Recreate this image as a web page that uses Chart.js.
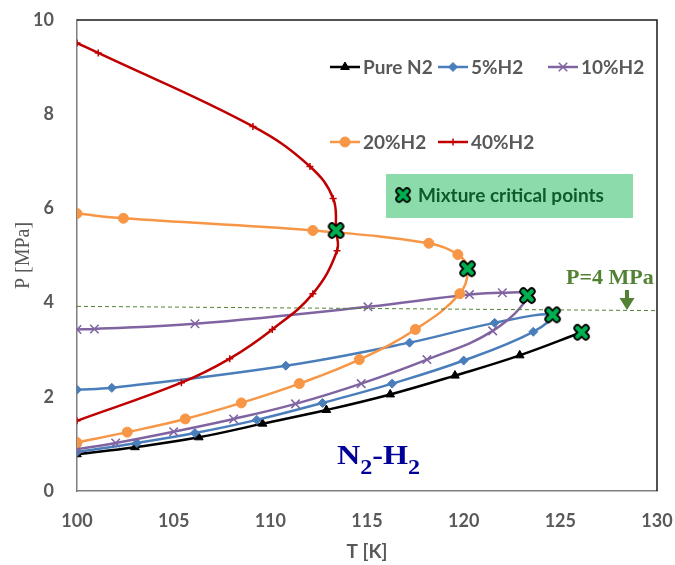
<!DOCTYPE html>
<html>
<head>
<meta charset="utf-8">
<script src="https://cdn.jsdelivr.net/npm/chart.js@4.4.0/dist/chart.umd.min.js"></script>
<style>
  html, body { margin: 0; padding: 0; background: #fff; }
</style>
</head>
<body>
<canvas id="vleChart" width="675" height="565"></canvas>
<script>
// N2-H2 phase envelopes (T in K, P in MPa)
// each mixture goes bubble branch -> critical point -> dew branch
const seriesNames = ['Pure N2', '5%H2', '10%H2', '20%H2', '40%H2'];

const pureN2T = [100, 103.0, 106.3, 109.6, 112.9, 116.2, 119.55, 122.9, 126.1];
const pureN2P = [0.78, 0.93, 1.14, 1.43, 1.72, 2.05, 2.45, 2.88, 3.37];

const h2_5T = [100, 103.1, 106.1, 109.3, 112.7, 116.3, 120.0, 123.6, 124.6, 121.6, 117.2, 110.8, 101.8, 100];
const h2_5P = [0.83, 1.02, 1.23, 1.51, 1.87, 2.28, 2.77, 3.38, 3.74, 3.57, 3.15, 2.66, 2.19, 2.15];

const h2_10T = [100, 102.0, 105.0, 108.1, 111.3, 114.7, 118.1, 121.5, 123.3, 122.0, 120.3, 115.05, 106.1, 100.9, 100];
const h2_10P = [0.89, 1.02, 1.26, 1.53, 1.85, 2.28, 2.79, 3.40, 4.15, 4.21, 4.17, 3.91, 3.55, 3.44, 3.43];

const h2_20T = [100, 102.6, 105.6, 108.5, 111.5, 114.6, 117.5, 119.8, 120.2, 119.7, 118.2, 112.2, 102.4, 100];
const h2_20P = [1.03, 1.25, 1.53, 1.87, 2.28, 2.79, 3.43, 4.19, 4.72, 5.02, 5.26, 5.53, 5.79, 5.89];

const h2_40T = [100, 105.4, 107.9, 110.1, 112.2, 113.45, 113.4, 113.25, 112.05, 109.1, 101.1, 100];
const h2_40P = [1.49, 2.30, 2.81, 3.43, 4.19, 5.10, 5.53, 6.21, 6.89, 7.74, 9.30, 9.51];

// mixture critical points
const critT = [126.1, 124.6, 123.3, 120.2, 113.4];
const critP = [3.37, 3.74, 4.15, 4.72, 5.53];

// P = 4 MPa guide line (drawn slightly sloped in the original)
const guideT = [100, 130];
const guideP = [3.92, 3.83];

const xTicks = [100, 105, 110, 115, 120, 125, 130];
const yTicks = [0, 2, 4, 6, 8, 10];

const pts = (T, P) => T.map((t, i) => ({ x: t, y: P[i] }));

function critMarker(size) {
    const c = document.createElement('canvas');
    c.width = size; c.height = size;
    const g = c.getContext('2d');
    const a = size * 0.28, b = size - a;
    g.lineCap = 'round';
    g.beginPath();
    g.moveTo(a, a); g.lineTo(b, b);
    g.moveTo(b, a); g.lineTo(a, b);
    g.strokeStyle = '#000'; g.lineWidth = size * 0.42; g.stroke();
    g.strokeStyle = '#00B050'; g.lineWidth = size * 0.23; g.stroke();
    return c;
}
const critIcon = critMarker(19);

function curve(label, T, P, color, style, radius) {
    return {
        label: label,
        data: pts(T, P),
        showLine: true,
        borderColor: color,
        backgroundColor: color,
        borderWidth: 2.5,
        tension: 0.4,
        pointStyle: style,
        pointRadius: radius,
        pointBorderWidth: style === 'crossRot' || style === 'cross' ? 1.5 : 1,
        pointBorderColor: color,
        pointBackgroundColor: color
    };
}

const datasets = [
    {
        label: 'Mixture critical points',
        data: pts(critT, critP),
        showLine: false,
        pointStyle: critIcon,
        pointRadius: 9
    },
    {
        label: 'P=4 MPa',
        data: pts(guideT, guideP),
        showLine: true,
        borderColor: '#548235',
        borderWidth: 1,
        borderDash: [4, 3],
        pointRadius: 0
    },
    curve(seriesNames[4], h2_40T, h2_40P, '#C00000', 'cross', 3.5),
    curve(seriesNames[3], h2_20T, h2_20P, '#F79646', 'circle', 5),
    curve(seriesNames[2], h2_10T, h2_10P, '#8064A2', 'crossRot', 6),
    curve(seriesNames[1], h2_5T, h2_5P, '#4A7EBB', 'rectRot', 4.5),
    curve(seriesNames[0], pureN2T, pureN2P, '#000000', 'triangle', 5)
];

// legend + annotations drawn by hand to follow the original layout
const annotations = {
    id: 'annotations',
    afterDraw(chart) {
        const ctx = chart.ctx;
        const area = chart.chartArea;
        ctx.save();

        // frame top/right
        ctx.strokeStyle = '#1a1a1a';
        ctx.lineWidth = 1.5;
        ctx.beginPath();
        ctx.moveTo(area.left, area.top);
        ctx.lineTo(area.right, area.top);
        ctx.lineTo(area.right, area.bottom);
        ctx.stroke();

        // legend
        const slots = [
            { ds: 6, x: 330, y: 67 },
            { ds: 5, x: 438, y: 67 },
            { ds: 4, x: 548, y: 67 },
            { ds: 3, x: 330, y: 142 },
            { ds: 2, x: 438, y: 142 }
        ];
        ctx.font = 'bold 19px Lato';
        ctx.textBaseline = 'middle';
        ctx.textAlign = 'left';
        slots.forEach(s => {
            const d = chart.data.datasets[s.ds];
            ctx.strokeStyle = d.borderColor;
            ctx.lineWidth = 2.5;
            ctx.setLineDash([]);
            ctx.beginPath();
            ctx.moveTo(s.x, s.y);
            ctx.lineTo(s.x + 30, s.y);
            ctx.stroke();
            ctx.fillStyle = d.pointBackgroundColor;
            ctx.lineWidth = d.pointBorderWidth;
            Chart.helpers.drawPoint(ctx, {
                pointStyle: d.pointStyle, radius: d.pointRadius, rotation: 0,
                borderWidth: d.pointBorderWidth
            }, s.x + 15, s.y);
            ctx.fillStyle = '#595959';
            ctx.fillText(d.label, s.x + 33, s.y + 1);
        });

        // critical-points box
        ctx.fillStyle = '#8CDBAA';
        ctx.fillRect(386, 174, 247, 44);
        ctx.drawImage(critIcon, 403 - 9, 195 - 9, 18, 18);
        ctx.fillStyle = '#0E5A2B';
        ctx.font = 'bold 19px Lato';
        ctx.fillText('Mixture critical points', 418, 196);

        // P = 4 MPa label and arrow
        ctx.fillStyle = '#548235';
        ctx.font = 'bold 22px "Liberation Serif"';
        ctx.fillText('P=4 MPa', 566, 278);
        ctx.fillRect(625, 290, 4, 10);
        ctx.beginPath();
        ctx.moveTo(619.5, 298);
        ctx.lineTo(634.5, 298);
        ctx.lineTo(627, 310);
        ctx.closePath();
        ctx.fill();

        // N2-H2 label (slightly wide serif, as in the original)
        ctx.fillStyle = '#000099';
        ctx.textBaseline = 'alphabetic';
        ctx.save();
        ctx.translate(337, 0);
        ctx.scale(1.15, 1);
        let x = 0;
        const big = 'bold 28px "Liberation Serif"', small = 'bold 21px "Liberation Serif"';
        [['N', big, 464], ['2', small, 474], ['-H', big, 464], ['2', small, 474]].forEach(p => {
            ctx.font = p[1];
            ctx.fillText(p[0], x, p[2]);
            x += ctx.measureText(p[0]).width;
        });
        ctx.restore();
        ctx.restore();
    }
};

const tickFont = { family: 'Lato', size: 18, weight: 'bold' };

new Chart(document.getElementById('vleChart').getContext('2d'), {
    type: 'scatter',
    data: { datasets: datasets },
    options: {
        responsive: false,
        animation: false,
        devicePixelRatio: 1,
        layout: { padding: 0 },
        scales: {
            x: {
                type: 'linear',
                min: xTicks[0],
                max: xTicks[xTicks.length - 1],
                afterBuildTicks: s => { s.ticks = xTicks.map(v => ({ value: v })); },
                afterFit: s => { s.height = 74; s.paddingLeft = 0; s.paddingRight = 18; },
                ticks: { color: '#595959', font: tickFont, padding: 19, maxRotation: 0 },
                grid: { display: false, drawTicks: false },
                border: { display: true, color: '#7f7f7f', width: 1.5 },
                title: {
                    display: true, text: 'T [K]', color: '#595959',
                    font: { family: 'Lato', size: 19, weight: 'bold' },
                    padding: { top: 0, bottom: 2 }
                }
            },
            y: {
                min: yTicks[0],
                max: yTicks[yTicks.length - 1],
                afterBuildTicks: s => { s.ticks = yTicks.map(v => ({ value: v })); },
                afterFit: s => { s.width = 77; s.paddingTop = 20; s.paddingBottom = 0; },
                ticks: { color: '#595959', font: tickFont, padding: 23 },
                grid: { display: false, drawTicks: false },
                border: { display: true, color: '#7f7f7f', width: 1.5 },
                title: {
                    display: true, text: 'P [MPa]', color: '#595959',
                    font: { family: 'Liberation Serif', size: 20 },
                    padding: { top: 12, bottom: 0 }
                }
            }
        },
        plugins: {
            legend: { display: false },
            tooltip: { enabled: false }
        }
    },
    plugins: [annotations]
});
</script>
</body>
</html>
